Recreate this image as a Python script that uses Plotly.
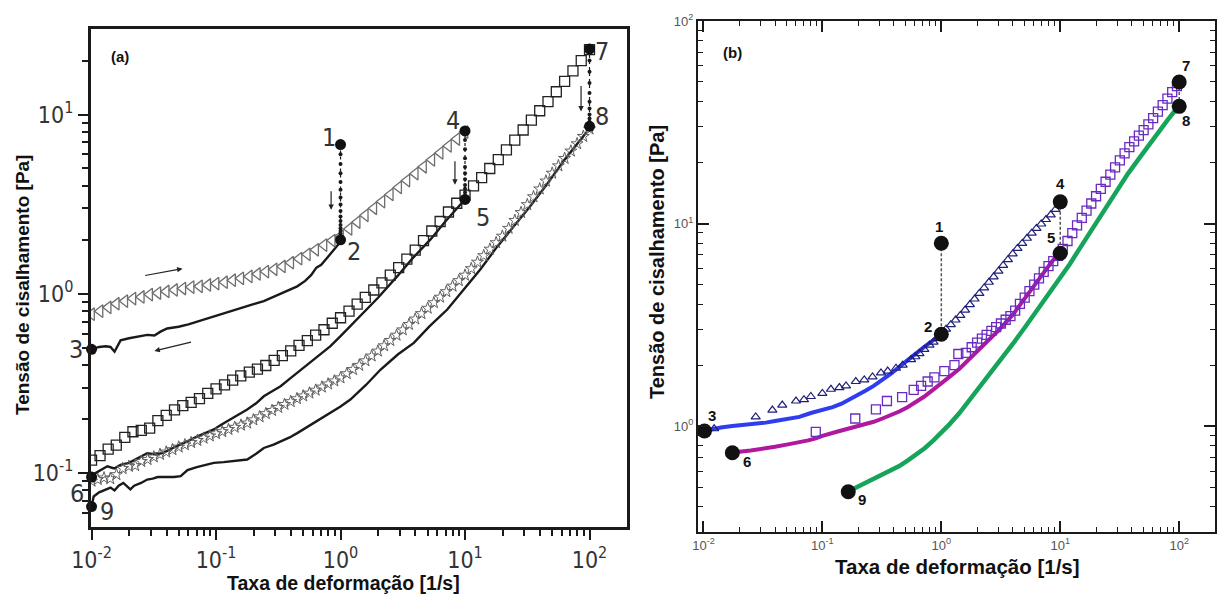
import math
import plotly.graph_objects as go

W, H = 1217, 594
L = math.log10

# ---------------- panel (a) data ----------------
a_tri_x = [0.01, 0.0117, 0.0136, 0.0158, 0.0185, 0.0215, 0.0251, 0.0293, 0.0341, 0.0398, 0.0464, 0.0541, 0.0631, 0.0736, 0.0858,
           0.1, 0.117, 0.136, 0.158, 0.185, 0.215, 0.251, 0.293, 0.341, 0.398, 0.464, 0.541, 0.631, 0.736, 0.858,
           1.0, 1.17, 1.36, 1.58, 1.85, 2.15, 2.51, 2.93, 3.41, 3.98, 4.64, 5.41, 6.31, 7.36, 8.58, 10.0]
a_tri_y = [0.77, 0.80, 0.84, 0.88, 0.91, 0.94, 0.96, 0.99, 1.01, 1.03, 1.05, 1.07, 1.09, 1.10, 1.12,
           1.14, 1.16, 1.19, 1.22, 1.25, 1.29, 1.33, 1.37, 1.42, 1.49, 1.57, 1.66, 1.76, 1.87, 1.98,
           2.10, 2.30, 2.51, 2.74, 3.00, 3.27, 3.58, 3.92, 4.28, 4.68, 5.11, 5.59, 6.11, 6.68, 7.30, 7.98]

a_ret1_x = [0.01, 0.0115, 0.013, 0.0142, 0.0153, 0.0171, 0.02, 0.024, 0.028, 0.032, 0.0358, 0.0405, 0.05, 0.06, 0.0706,
            0.085, 0.1, 0.13, 0.16, 0.2, 0.242, 0.3, 0.37, 0.449, 0.52, 0.58, 0.64, 0.7, 0.8, 0.9, 1.0]
a_ret1_y = [0.49, 0.505, 0.51, 0.505, 0.475, 0.55, 0.565, 0.58, 0.59, 0.585, 0.615, 0.64, 0.655, 0.675, 0.70,
            0.73, 0.75, 0.80, 0.84, 0.875, 0.91, 0.97, 1.03, 1.10, 1.18, 1.27, 1.40, 1.45, 1.62, 1.80, 1.95]

a_sq_x = [0.01, 0.0117, 0.0136, 0.0158, 0.0185, 0.0215, 0.0251, 0.0293, 0.0341, 0.0398, 0.0464, 0.0541, 0.0631, 0.0736, 0.0858,
          0.1, 0.117, 0.136, 0.158, 0.185, 0.215, 0.251, 0.293, 0.341, 0.398, 0.464, 0.541, 0.631, 0.736, 0.858,
          1.0, 1.17, 1.36, 1.58, 1.85, 2.15, 2.51, 2.93, 3.41, 3.98, 4.64, 5.41, 6.31, 7.36, 8.58,
          10.0, 11.7, 13.6, 15.8, 18.5, 21.5, 25.1, 29.3, 34.1, 39.8, 46.4, 54.1, 63.1, 73.6, 85.8, 100.0]
a_sq_y = [0.118, 0.125, 0.136, 0.143, 0.158, 0.17, 0.173, 0.178, 0.196, 0.21, 0.225, 0.238, 0.248, 0.26, 0.278,
          0.295, 0.31, 0.33, 0.348, 0.366, 0.38, 0.398, 0.425, 0.452, 0.48, 0.515, 0.548, 0.588, 0.63, 0.685,
          0.735, 0.80, 0.875, 0.955, 1.05, 1.15, 1.27, 1.40, 1.56, 1.75, 1.98, 2.24, 2.53, 2.86, 3.2,
          3.55, 4.0, 4.45, 5.0, 5.6, 6.35, 7.2, 8.2, 9.3, 10.5, 11.8, 13.4, 15.3, 17.5, 20.0, 23.0]

a_ret2_x = [0.01, 0.0115, 0.0134, 0.0152, 0.0171, 0.02, 0.022, 0.025, 0.028, 0.033, 0.038, 0.045, 0.052, 0.061, 0.071,
            0.083, 0.096, 0.11, 0.13, 0.15, 0.178, 0.21, 0.242, 0.28, 0.33, 0.39, 0.449, 0.52, 0.61, 0.71,
            0.83, 1.0, 1.2, 1.54, 2.0, 2.85, 3.8, 5.28, 7.0, 9.0, 10.0]
a_ret2_y = [0.097, 0.103, 0.109, 0.106, 0.111, 0.114, 0.118, 0.124, 0.129, 0.127, 0.130, 0.138, 0.144, 0.152, 0.160,
            0.167, 0.175, 0.186, 0.199, 0.211, 0.226, 0.245, 0.268, 0.285, 0.305, 0.335, 0.362, 0.395, 0.43, 0.47,
            0.51, 0.58, 0.66, 0.78, 0.95, 1.25, 1.58, 2.01, 2.55, 3.1, 3.36]

a_star_x = [0.01, 0.01122, 0.01259, 0.01413, 0.01585, 0.01778, 0.01995, 0.02239, 0.02512, 0.02818,
            0.03162, 0.03548, 0.03981, 0.04467, 0.05012, 0.05623, 0.0631, 0.07079, 0.07943, 0.08913,
            0.1, 0.1122, 0.1259, 0.1413, 0.1585, 0.1778, 0.1995, 0.2239, 0.2512, 0.2818,
            0.3162, 0.3548, 0.3981, 0.4467, 0.5012, 0.5623, 0.631, 0.7079, 0.7943, 0.8913,
            1.0, 1.122, 1.259, 1.413, 1.585, 1.778, 1.995, 2.239, 2.512, 2.818,
            3.162, 3.548, 3.981, 4.467, 5.012, 5.623, 6.31, 7.079, 7.943, 8.913,
            10.0, 11.22, 12.59, 14.13, 15.85, 17.78, 19.95, 22.39, 25.12, 28.18,
            31.62, 35.48, 39.81, 44.67, 50.12, 56.23, 63.1, 70.79, 79.43, 89.13, 100.0]
a_star_y = [0.090, 0.092, 0.094, 0.093, 0.098, 0.106, 0.109, 0.110, 0.116, 0.119,
            0.123, 0.127, 0.131, 0.135, 0.1396, 0.1437, 0.1479, 0.152, 0.1565, 0.161,
            0.1657, 0.1703, 0.175, 0.18, 0.185, 0.190, 0.198, 0.206, 0.2145, 0.2234,
            0.2324, 0.2414, 0.2503, 0.2598, 0.2693, 0.2793, 0.29, 0.3017, 0.3139, 0.3264,
            0.3396, 0.3583, 0.378, 0.399, 0.4227, 0.4498, 0.479, 0.5128, 0.5489, 0.5875,
            0.629, 0.6747, 0.7233, 0.7754, 0.831, 0.892, 0.957, 1.028, 1.103, 1.184,
            1.27, 1.381, 1.501, 1.632, 1.774, 1.928, 2.096, 2.319, 2.566, 2.84,
            3.143, 3.476, 3.846, 4.256, 4.708, 5.176, 5.689, 6.254, 6.871, 7.55, 8.30]

a_ret3_x = [0.01, 0.0104, 0.0115, 0.0129, 0.0142, 0.0153, 0.0165, 0.018, 0.0195, 0.0205,
            0.022, 0.025, 0.028, 0.031, 0.034, 0.04, 0.046, 0.052, 0.059, 0.07,
            0.083, 0.096, 0.115, 0.14, 0.178, 0.21, 0.242, 0.29, 0.33, 0.39,
            0.449, 0.52, 0.61, 0.71, 0.83, 1.0, 1.2, 1.6, 2.1, 2.9,
            3.88, 5.2, 7.2, 10.0, 13.3, 18.0, 24.7, 33.0, 45.7, 63.0, 80.0, 95.0]
a_ret3_y = [0.065, 0.074, 0.078, 0.081, 0.083, 0.08, 0.085, 0.088, 0.083, 0.081,
            0.085, 0.088, 0.092, 0.093, 0.095, 0.095, 0.095, 0.096, 0.104, 0.108,
            0.111, 0.114, 0.115, 0.117, 0.119, 0.128, 0.138, 0.144, 0.15, 0.158,
            0.167, 0.178, 0.19, 0.203, 0.216, 0.235, 0.257, 0.31, 0.378, 0.46,
            0.532, 0.66, 0.817, 1.07, 1.37, 1.82, 2.39, 3.05, 4.1, 5.6, 6.9, 8.0]

# stress-relaxation dots (constant rate)
a_relax12_y = [6.8, 6.0, 5.3, 4.7, 4.2, 3.8, 3.45, 3.15, 2.9, 2.7, 2.55, 2.42, 2.32, 2.24, 2.17, 2.11, 2.07, 2.03]
a_relax45_y = [8.1, 7.2, 6.4, 5.7, 5.1, 4.7, 4.35, 4.05, 3.85, 3.68, 3.55, 3.45, 3.38]
a_relax78_y = [23.2, 20.0, 17.3, 15.0, 13.2, 11.8, 10.8, 10.0, 9.5, 9.1, 8.85, 8.7]
a_relax_rates = [1.0, 10.0, 100.0]

a_pts_x = [1.0, 1.0, 0.01, 10.0, 10.0, 0.01, 100.0, 100.0, 0.01]
a_pts_y = [6.8, 2.0, 0.49, 8.1, 3.36, 0.095, 23.2, 8.6, 0.065]
a_pts_lab = ["1", "2", "3", "4", "5", "6", "7", "8", "9"]

# ---------------- panel (b) data ----------------
b_tri_x = [0.0123, 0.0275, 0.038, 0.046, 0.060, 0.070, 0.080, 0.100, 0.118, 0.139, 0.158, 0.191, 0.225, 0.264,
           0.311, 0.354, 0.416, 0.473, 0.557, 0.605, 0.655, 0.72, 0.795, 0.86, 0.933,
           1.0, 1.096, 1.202, 1.318, 1.445, 1.585, 1.738, 1.905, 2.089, 2.291, 2.512, 2.754, 3.020, 3.311,
           3.631, 3.981, 4.365, 4.786, 5.248, 5.754, 6.310, 6.918, 7.586, 8.318, 9.120, 10.0]
b_tri_y = [0.97, 1.11, 1.20, 1.27, 1.33, 1.35, 1.40, 1.45, 1.52, 1.55, 1.58, 1.66, 1.69, 1.75,
           1.83, 1.87, 1.93, 2.00, 2.13, 2.20, 2.28, 2.39, 2.51, 2.60, 2.71,
           2.85, 3.01, 3.17, 3.34, 3.52, 3.74, 3.98, 4.24, 4.52, 4.81, 5.13, 5.46, 5.82, 6.21,
           6.63, 7.08, 7.54, 7.98, 8.46, 8.96, 9.46, 9.95, 10.47, 11.04, 11.75, 12.5]

b_blue_x = [0.0105, 0.0119, 0.014, 0.0175, 0.022, 0.0275, 0.0334, 0.04, 0.05, 0.064, 0.08, 0.1, 0.122, 0.145,
            0.168, 0.2, 0.232, 0.27, 0.32, 0.38, 0.443, 0.52, 0.61, 0.72, 0.85, 0.93, 1.0]
b_blue_y = [0.95, 0.97, 0.985, 1.0, 1.01, 1.025, 1.04, 1.06, 1.08, 1.11, 1.16, 1.2, 1.24, 1.29,
            1.35, 1.42, 1.5, 1.58, 1.69, 1.82, 1.96, 2.1, 2.28, 2.46, 2.66, 2.75, 2.84]

b_sq_x = [0.088, 0.189, 0.282, 0.349, 0.468, 0.586, 0.676, 0.768, 0.875, 1.06, 1.29, 1.39, 1.61, 1.8,
          2.0, 2.193, 2.404, 2.636, 2.891, 3.170, 3.475, 3.811, 4.178, 4.581,
          5.023, 5.508, 6.039, 6.622, 7.261, 7.962, 8.730, 9.572, 10.50,
          11.51, 12.62, 13.84, 15.17, 16.63, 18.24, 20.0, 21.93, 24.04, 26.36,
          28.91, 31.70, 34.75, 38.11, 41.78, 45.81, 50.23, 55.08, 60.39, 66.22,
          72.61, 79.62, 87.30, 95.72]
b_sq_y = [0.937, 1.09, 1.21, 1.33, 1.39, 1.51, 1.58, 1.66, 1.74, 1.87, 2.0, 2.27, 2.30, 2.45,
          2.58, 2.70, 2.82, 2.95, 3.08, 3.21, 3.35, 3.49, 3.72, 4.01,
          4.31, 4.64, 4.99, 5.36, 5.77, 6.16, 6.53, 6.93, 7.50,
          8.20, 8.96, 9.79, 10.67, 11.58, 12.56, 13.64, 14.82, 16.08, 17.45,
          18.92, 20.51, 22.23, 23.85, 25.45, 27.15, 28.95, 30.88, 33.13, 35.68,
          38.41, 41.35, 44.51, 47.7]

b_mag_x = [0.0174, 0.02, 0.025, 0.03, 0.04, 0.05, 0.064, 0.076, 0.088, 0.1, 0.13, 0.168, 0.2, 0.232, 0.27,
           0.32, 0.38, 0.443, 0.52, 0.61, 0.72, 0.85, 1.0, 1.17, 1.42, 1.7, 2.0, 2.5, 3.0, 3.5,
           4.0, 5.0, 6.0, 6.7, 7.6, 8.6, 10.0]
b_mag_y = [0.733, 0.747, 0.758, 0.768, 0.79, 0.81, 0.83, 0.85, 0.87, 0.895, 0.935, 0.97, 0.995, 1.02, 1.05,
           1.09, 1.13, 1.18, 1.24, 1.31, 1.40, 1.51, 1.62, 1.75, 1.92, 2.12, 2.35, 2.66, 2.95, 3.25,
           3.55, 4.25, 4.9, 5.4, 5.95, 6.55, 7.14]

b_grn_x = [0.163, 0.179, 0.21, 0.25, 0.32, 0.38, 0.443, 0.52, 0.61, 0.72, 0.85, 1.0, 1.17, 1.42, 1.7,
           2.0, 2.5, 3.1, 4.0, 5.0, 6.0, 7.14, 8.5, 10.0, 12.0, 14.5, 17.7, 22.0, 29.7, 37.0,
           46.7, 57.0, 68.7, 80.0, 92.0, 97.0]
b_grn_y = [0.474, 0.487, 0.51, 0.535, 0.573, 0.60, 0.635, 0.675, 0.719, 0.775, 0.845, 0.925, 1.02, 1.16, 1.33,
           1.50, 1.78, 2.07, 2.55, 3.05, 3.55, 4.1, 4.75, 5.35, 6.3, 7.5, 9.0, 10.9, 14.5, 17.6,
           21.2, 25.0, 29.0, 32.5, 36.0, 37.0]

b_pts_x = [1.0, 1.0, 0.0102, 10.0, 10.0, 0.0175, 100.0, 100.0, 0.165]
b_pts_y = [8.0, 2.84, 0.945, 12.8, 7.14, 0.738, 50.0, 37.9, 0.474]
b_pts_lab = ["1", "2", "3", "4", "5", "6", "7", "8", "9"]

# tick labels
x_tick_vals = [0.01, 0.1, 1, 10, 100]
x_tick_text = ["10<sup>-2</sup>", "10<sup>-1</sup>", "10<sup>0</sup>", "10<sup>1</sup>", "10<sup>2</sup>"]
a_y_tick_vals = [0.1, 1, 10]
a_y_tick_text = ["10<sup>-1</sup>", "10<sup>0</sup>", "10<sup>1</sup>"]
b_y_tick_vals = [1, 10, 100]
b_y_tick_text = ["10<sup>0</sup>", "10<sup>1</sup>", "10<sup>2</sup>"]

x_title = "Taxa de deformação [1/s]"
y_title = "Tensão de cisalhamento [Pa]"

# ---------------- figure ----------------
NARROW = "Liberation Sans Narrow, Arial Narrow, DejaVu Sans Condensed, sans-serif"
ARIAL = "Liberation Sans, Arial, Helvetica, sans-serif"
BLK = "#1a1a1a"

fig = go.Figure()


def add(xs, ys, xa, ya, **kw):
    fig.add_trace(go.Scatter(x=xs, y=ys, xaxis=xa, yaxis=ya, showlegend=False,
                             hoverinfo="skip", **kw))


# panel (a)
for xs, ys in [(a_ret1_x, a_ret1_y), (a_ret2_x, a_ret2_y), (a_ret3_x, a_ret3_y)]:
    add(xs, ys, "x", "y", mode="lines", line=dict(color=BLK, width=2.4))
add(a_tri_x, a_tri_y, "x", "y", mode="markers",
    marker=dict(symbol="triangle-left-open", size=11, color="#6e6e6e", line=dict(width=1.3)))
add(a_sq_x, a_sq_y, "x", "y", mode="markers",
    marker=dict(symbol="square-open", size=10, color="#222222", line=dict(width=1.3)))
add(a_star_x, a_star_y, "x", "y", mode="markers",
    marker=dict(symbol="star-open", size=9, color="#606060", line=dict(width=1)))
for rate, ys in zip(a_relax_rates, [a_relax12_y, a_relax45_y, a_relax78_y]):
    add([rate] * len(ys), ys, "x", "y", mode="lines+markers",
        line=dict(color=BLK, width=1.2, dash="dot"), marker=dict(size=4, color=BLK))
add(a_pts_x, a_pts_y, "x", "y", mode="markers", cliponaxis=False,
    marker=dict(size=11, color="#111111"))

# panel (b)
add(b_blue_x, b_blue_y, "x2", "y2", mode="lines", line=dict(color="#2f3cf0", width=4))
add(b_mag_x, b_mag_y, "x2", "y2", mode="lines", line=dict(color="#b0189e", width=4))
add(b_grn_x, b_grn_y, "x2", "y2", mode="lines", line=dict(color="#16a35a", width=4.5))
add(b_tri_x, b_tri_y, "x2", "y2", mode="markers",
    marker=dict(symbol="triangle-up-open", size=8, color="#1f1f78", line=dict(width=1.2)))
add(b_sq_x, b_sq_y, "x2", "y2", mode="markers",
    marker=dict(symbol="square-open", size=9, color="#6a2bc0", line=dict(width=1.3)))
for i, j in [(0, 1), (3, 4), (6, 7)]:
    add([b_pts_x[i], b_pts_x[j]], [b_pts_y[i], b_pts_y[j]], "x2", "y2", mode="lines",
        line=dict(color="#555555", width=1.5, dash="3px,2px"))
add(b_pts_x, b_pts_y, "x2", "y2", mode="markers", cliponaxis=False,
    marker=dict(size=15, color="#111111"))

# axes
dec = [m * 10.0 ** e for e in range(-3, 3) for m in range(2, 10)]
a_xminor = [v for v in dec if 0.0101 < v < 199]
a_yminor = [v for v in dec if 0.0501 < v < 29.9]
b_xminor = [v for v in dec if 0.0091 < v < 199]
b_yminor = [v for v in dec if 0.301 < v < 99]

common_a = dict(type="log", showgrid=False, zeroline=False, showline=True, linewidth=3,
                linecolor=BLK, mirror=True, ticks="outside", ticklen=10, tickwidth=2,
                tickcolor=BLK, tickmode="array", automargin=False,
                tickfont=dict(family=NARROW, size=23, color="#333333"))
common_b = dict(type="log", showgrid=False, zeroline=False, showline=True, linewidth=2,
                linecolor=BLK, mirror="ticks", ticks="inside", ticklen=11, tickwidth=1.8,
                tickcolor=BLK, tickmode="array", automargin=False,
                tickfont=dict(family=ARIAL, size=13, color="#555555"))

fig.update_layout(
    width=W, height=H,
    margin=dict(l=0, r=0, t=0, b=0, autoexpand=False),
    paper_bgcolor="white", plot_bgcolor="white",
    font=dict(family=ARIAL),
    xaxis=dict(domain=[91 / W, 627 / W], range=[L(0.0099), L(200)], anchor="y",
               tickvals=x_tick_vals, ticktext=x_tick_text,
               minor=dict(tickmode="array", tickvals=a_xminor, ticks="outside", ticklen=6,
                          tickwidth=1.5, tickcolor=BLK),
               **common_a),
    yaxis=dict(domain=[1 - 527 / H, 1 - 29 / H], range=[L(0.05), L(30)], anchor="x",
               tickvals=a_y_tick_vals, ticktext=a_y_tick_text,
               minor=dict(tickmode="array", tickvals=a_yminor, ticks="outside", ticklen=6,
                          tickwidth=1.5, tickcolor=BLK),
               **common_a),
    xaxis2=dict(domain=[698 / W, 1215 / W], range=[L(0.009), L(200)], anchor="y2",
                tickvals=x_tick_vals, ticktext=x_tick_text,
                minor=dict(tickmode="array", tickvals=b_xminor, ticks="inside", ticklen=5,
                           tickwidth=1.2, tickcolor=BLK),
                **common_b),
    yaxis2=dict(domain=[1 - 532 / H, 1 - 21 / H], range=[L(0.3), L(100)], anchor="x2",
                tickvals=b_y_tick_vals, ticktext=b_y_tick_text,
                minor=dict(tickmode="array", tickvals=b_yminor, ticks="inside", ticklen=5,
                           tickwidth=1.2, tickcolor=BLK),
                **common_b),
)

ann = []
# point labels (a)
a_shift = [(-12, 7), (13, -12), (-16, 0), (-12, 10), (18, -18), (-15, -16), (12, -2), (12, 10), (15, -5)]
for x, y, t, (dx, dy) in zip(a_pts_x, a_pts_y, a_pts_lab, a_shift):
    ann.append(dict(x=L(x), y=L(y), xref="x", yref="y", text=t, showarrow=False,
                    xanchor="center", yanchor="middle",
                    xshift=dx, yshift=dy, font=dict(family=NARROW, size=25, color="#333333")))
# point labels (b)
b_shift = [(-2, 17), (-13, 8), (8, 16), (0, 18), (-9, 16), (15, -9), (7, 16), (7, -14), (14, -8)]
for x, y, t, (dx, dy) in zip(b_pts_x, b_pts_y, b_pts_lab, b_shift):
    ann.append(dict(x=L(x), y=L(y), xref="x2", yref="y2", text="<b>" + t + "</b>", showarrow=False,
                    xanchor="center", yanchor="middle",
                    xshift=dx, yshift=dy, font=dict(family=ARIAL, size=15, color="#111111")))

# arrows (a): (head_x, head_y, tail_x, tail_y)
a_arrows = [(0.0538, 1.38, 0.0262, 1.26), (0.032, 0.48, 0.0647, 0.54),
            (0.84, 2.94, 0.84, 3.81), (8.3, 4.06, 8.3, 5.6), (85.5, 10.4, 85.5, 14.7)]
for hx, hy, tx, ty in a_arrows:
    ann.append(dict(x=L(hx), y=L(hy), ax=L(tx), ay=L(ty), xref="x", yref="y", axref="x", ayref="y",
                    text="", showarrow=True, arrowhead=2, arrowsize=0.9, arrowwidth=1.2,
                    arrowcolor="#222222"))


def paper_text(px, py, text, size, angle=0):
    return dict(x=px / W, y=1 - py / H, xref="paper", yref="paper", text=text,
                xanchor="center", yanchor="middle", textangle=angle, showarrow=False,
                font=dict(family=ARIAL, size=size, color="#111111"))


# panel tags
ann.append(paper_text(120, 57, "<b>(a)</b>", 15))
ann.append(paper_text(732, 52, "<b>(b)</b>", 15))
# axis titles
ann.append(paper_text(343, 583, "<b>" + x_title + "</b>", 19.5))
ann.append(paper_text(22, 285, "<b>" + y_title + "</b>", 19, -90))
ann.append(paper_text(957, 566, "<b>" + x_title + "</b>", 20.5))
ann.append(paper_text(657, 262, "<b>" + y_title + "</b>", 20, -90))

fig.update_layout(annotations=ann)
fig.write_html("out.html")
